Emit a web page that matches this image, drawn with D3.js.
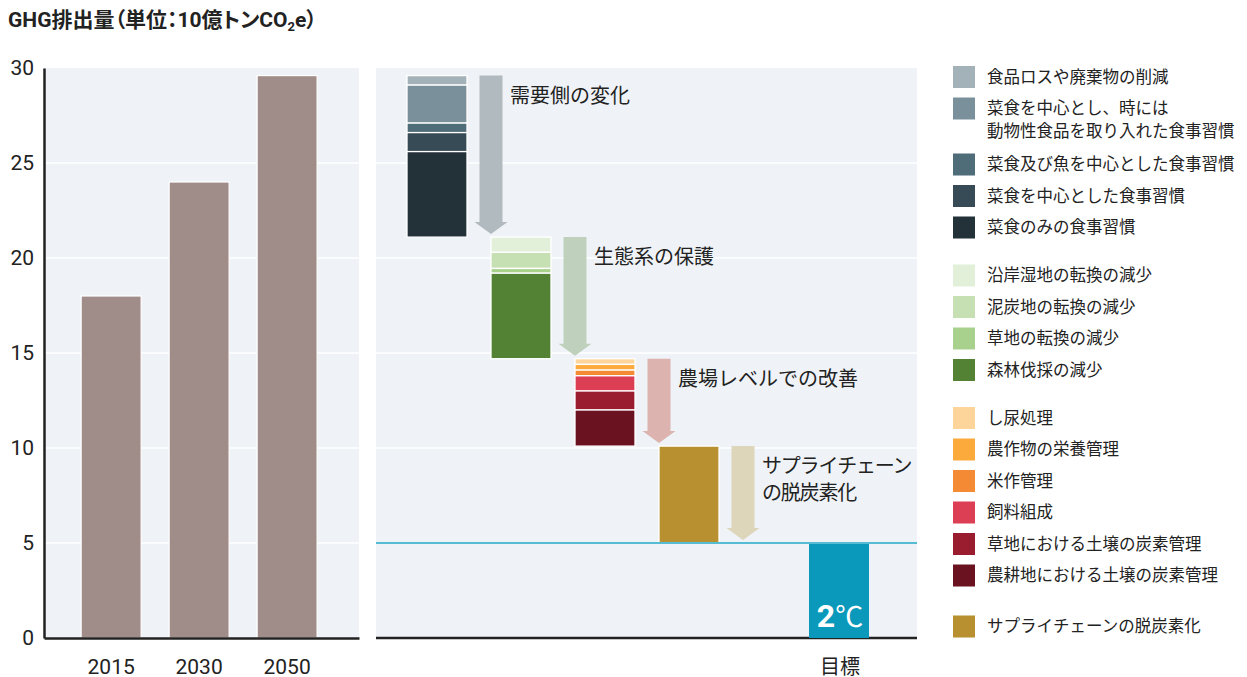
<!DOCTYPE html>
<html><head><meta charset="utf-8">
<script src="https://cdn.jsdelivr.net/npm/d3@7"></script>
<style>
body{margin:0;background:#fff;}
svg{display:block;font-family:Roboto,"Noto Sans CJK JP",sans-serif;}
.palt{font-feature-settings:"palt";}
</style></head><body>
<svg id="c" width="1247" height="677"></svg>
<script>
// ---------- data ----------
const years = ["2015", "2030", "2050"];
const emissions = [18, 24, 29.6];
const yTicks = [0, 5, 10, 15, 20, 25, 30];

const stepNames = ["需要側の変化", "生態系の保護", "農場レベルでの改善", "サプライチェーンの脱炭素化"];
const stepLabelLines = [["需要側の変化"], ["生態系の保護"], ["農場レベルでの改善"], ["サプライチェーン", "の脱炭素化"]];
const arrowColors = ["#b1babe", "#bfd1bd", "#dcb3ae", "#ddd6bb"];

const demandLabels = ["食品ロスや廃棄物の削減", "菜食を中心とし、時には|動物性食品を取り入れた食事習慣", "菜食及び魚を中心とした食事習慣", "菜食を中心とした食事習慣", "菜食のみの食事習慣"];
const demandValues = [0.5, 2.0, 0.5, 1.0, 4.5];
const demandColors = ["#a3b1b8", "#7a919b", "#4f6d79", "#374b56", "#233139"];

const ecoLabels = ["沿岸湿地の転換の減少", "泥炭地の転換の減少", "草地の転換の減少", "森林伐採の減少"];
const ecoValues = [0.8, 0.85, 0.25, 4.5];
const ecoColors = ["#e2efd9", "#c6e0b4", "#a9d18e", "#548235"];

const farmLabels = ["し尿処理", "農作物の栄養管理", "米作管理", "飼料組成", "草地における土壌の炭素管理", "農耕地における土壌の炭素管理"];
const farmValues = [0.3, 0.3, 0.3, 0.8, 1.0, 1.9];
const farmColors = ["#fdd59a", "#fcaa3b", "#f58a34", "#dc3e54", "#9a1c2f", "#6a1220"];

const supplyLabels = ["サプライチェーンの脱炭素化"];
const supplyValues = [5.1];
const supplyColors = ["#b8902f"];

const targetLabel = "目標";
const targetValue = 5;
const targetColor = "#0a99ba";

const titleMain = "GHG排出量（単位：10億トンCO";
const titleSub = "2";
const titleEnd = "e）";

// ---------- layout ----------
const svg = d3.select("#c");
const BG = "#eff3f7", DARK = "#222";
const y = d3.scaleLinear().domain([0, 30]).range([638, 68]);
const leftL = 44, leftR = 359, rightL = 376, rightR = 917;

// title
const t = svg.append("text").attr("class", "palt").attr("x", 8).attr("y", 27).attr("font-size", 21).attr("font-weight", "bold").attr("fill", DARK);
t.append("tspan").text(titleMain);
t.append("tspan").text(titleSub).attr("font-size", 13).attr("dy", 4);
t.append("tspan").text(titleEnd).attr("dy", -4);

// backgrounds
svg.append("rect").attr("x", leftL).attr("y", y(30)).attr("width", leftR - leftL).attr("height", y(0) - y(30)).attr("fill", BG);
svg.append("rect").attr("x", rightL).attr("y", y(30)).attr("width", rightR - rightL).attr("height", y(0) - y(30)).attr("fill", BG);

// gridlines
[[leftL, leftR], [rightL, rightR]].forEach(([a, b]) => {
  svg.append("g").selectAll("line").data(yTicks.filter(v => v > 0 && v < 30)).join("line")
    .attr("x1", a).attr("x2", b).attr("y1", d => y(d)).attr("y2", d => y(d))
    .attr("stroke", "#fff").attr("stroke-width", 1.3);
});

// left bars
const xL = d3.scaleBand().domain(years).range([leftL, leftR]).paddingInner(28 / 88).paddingOuter(0.449).align(0.47);
svg.append("g").selectAll("rect").data(years).join("rect")
  .attr("x", d => xL(d)).attr("width", xL.bandwidth())
  .attr("y", (d, i) => y(emissions[i])).attr("height", (d, i) => y(0) - y(emissions[i]))
  .attr("fill", "#a08c88").attr("stroke", "#fff").attr("stroke-width", 1.2);

// left axis
const axL = svg.append("g").attr("transform", `translate(${leftL},0)`)
  .call(d3.axisLeft(y).tickValues(yTicks).tickSize(0).tickPadding(10).tickFormat(d3.format("d")));
axL.select(".domain").attr("stroke", DARK).attr("stroke-width", 2.5);
axL.selectAll("text").attr("font-size", 21).attr("fill", DARK).attr("font-family", "Roboto, sans-serif");

const axB = svg.append("g").attr("transform", `translate(0,${y(0)})`)
  .call(d3.axisBottom(xL).tickSize(0).tickSizeOuter(0));
axB.select(".domain").attr("stroke", DARK).attr("stroke-width", 2.5);
axB.selectAll("text").attr("font-size", 21).attr("fill", DARK).attr("y", 28.5).attr("dy", "0.35em").attr("font-family", "Roboto, sans-serif");

// right panel waterfall
const groupValues = [demandValues, ecoValues, farmValues, supplyValues];
const groupColors = [demandColors, ecoColors, farmColors, supplyColors];
const groupLabels = [demandLabels, ecoLabels, farmLabels, supplyLabels];
const xR = d3.scaleBand().domain(stepNames).range([395, 731]).paddingInner(24 / 84).paddingOuter(12 / 84);
const stepW = xR.step();

// right bottom axis line
svg.append("line").attr("x1", rightL).attr("x2", rightR).attr("y1", y(0)).attr("y2", y(0)).attr("stroke", DARK).attr("stroke-width", 2.5);

let level = emissions[emissions.length - 1];
const gR = svg.append("g");
stepNames.forEach((name, gi) => {
  const vals = groupValues[gi];
  let cur = level;
  const segs = vals.map((v, i) => { const s = { t: cur, b: cur - v, c: groupColors[gi][i] }; cur -= v; return s; });
  gR.append("g").selectAll("rect").data(segs).join("rect")
    .attr("x", xR(name)).attr("width", xR.bandwidth())
    .attr("y", d => y(d.t)).attr("height", d => y(d.b) - y(d.t))
    .attr("fill", d => d.c).attr("stroke", "#fff").attr("stroke-width", 1.3);
  // arrow
  const cx = xR(name) + stepW;
  const yt = y(level), yb = y(cur) - 3, hw = 11.5, hh = 16.5, hl = 12;
  gR.append("path")
    .attr("d", `M${cx - hw},${yt}L${cx + hw},${yt}L${cx + hw},${yb - hl}L${cx + hh},${yb - hl}L${cx},${yb}L${cx - hh},${yb - hl}L${cx - hw},${yb - hl}Z`)
    .attr("fill", arrowColors[gi]);
  // label
  const lab = gR.append("text").attr("x", cx + 19).attr("y", yt + 20).attr("font-size", 20).attr("fill", DARK)
    .attr("font-family", "'Noto Sans CJK JP', sans-serif");
  if (stepLabelLines[gi].length > 1) lab.attr("letter-spacing", -1.2);
  stepLabelLines[gi].forEach((ln, li) => lab.append("tspan").attr("x", cx + 19).attr("dy", li === 0 ? "0.35em" : 27).text(ln));
  level = cur;
});

// target line at 5
svg.append("line").attr("x1", rightL).attr("x2", rightR).attr("y1", y(targetValue)).attr("y2", y(targetValue))
  .attr("stroke", "#55bcd3").attr("stroke-width", 2);

// target bar
const xT = d3.scaleBand().domain([targetLabel]).range([809, 869]);
svg.append("rect").attr("x", xT(targetLabel)).attr("width", xT.bandwidth())
  .attr("y", y(targetValue) + 1).attr("height", y(0) - y(targetValue) - 1).attr("fill", targetColor);
const tt = svg.append("text").attr("x", xT(targetLabel) + xT.bandwidth() / 2 + 1).attr("y", 627).attr("text-anchor", "middle").attr("fill", "#fff");
tt.append("tspan").text("2").attr("font-size", 32).attr("font-weight", "bold").attr("font-family", "Roboto, sans-serif");
tt.append("tspan").text("℃").attr("font-size", 28).attr("font-family", "'Noto Sans CJK JP', sans-serif");
svg.append("text").attr("x", xT(targetLabel) + xT.bandwidth() / 2 + 1).attr("y", 666.5).attr("dy", "0.35em")
  .attr("text-anchor", "middle").attr("font-size", 20).attr("fill", DARK).attr("font-family", "'Noto Sans CJK JP', sans-serif").text(targetLabel);

// legend
const lg = svg.append("g").attr("font-family", "'Noto Sans CJK JP', sans-serif");
let ly = 66;
const rowH = 31.5, extraLine = 24.5, groupGaps = [16.5, 16.5, 19.5];
groupLabels.forEach((labels, gi) => {
  labels.forEach((lab, i) => {
    lg.append("rect").attr("x", 953).attr("y", ly).attr("width", 22).attr("height", 22).attr("fill", groupColors[gi][i]);
    const lines = lab.split("|");
    const tx = lg.append("text").attr("x", 987).attr("y", ly + 11).attr("font-size", 16.5).attr("fill", DARK);
    lines.forEach((ln, li) => tx.append("tspan").attr("x", 987).attr("dy", li === 0 ? "0.35em" : 22.5).text(ln));
    ly += rowH + (lines.length - 1) * extraLine;
  });
  if (gi < groupGaps.length) ly += groupGaps[gi];
});
</script>
</body></html>
